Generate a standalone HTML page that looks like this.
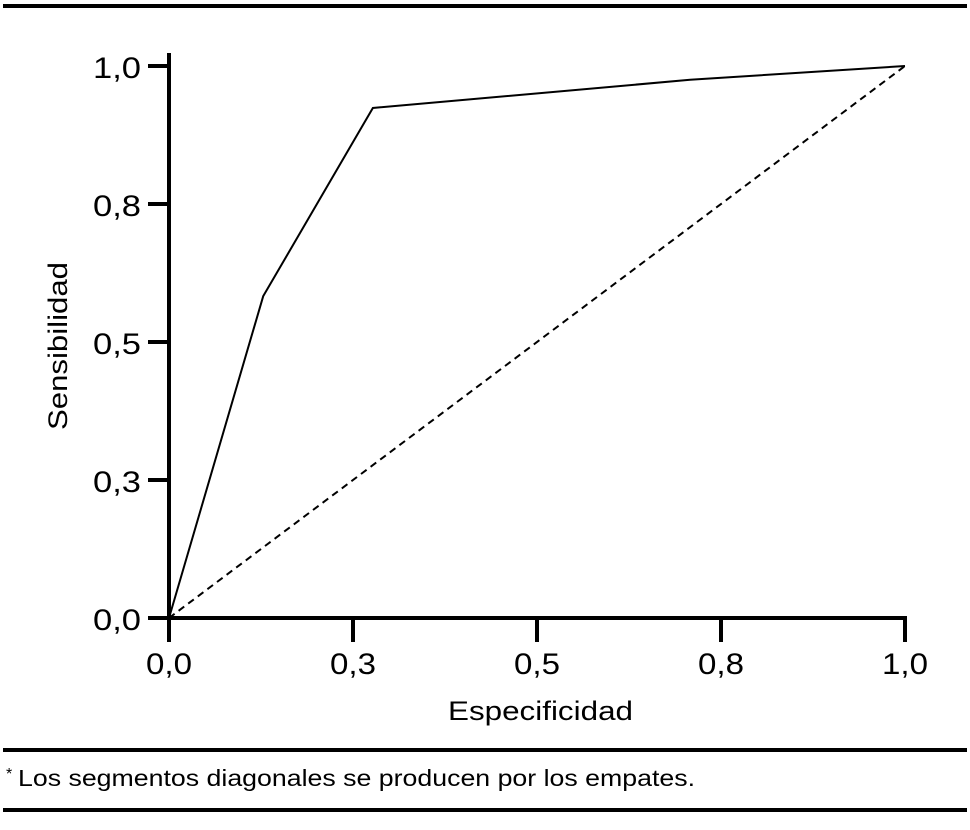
<!DOCTYPE html>
<html><head><meta charset="utf-8"><style>
html,body{margin:0;padding:0;background:#fff;}
svg{display:block;font-family:"Liberation Sans",sans-serif;}
</style></head><body>
<svg id="chart" width="970" height="830" viewBox="0 0 970 830">
<rect x="3" y="4" width="964" height="4" fill="#000"/>
<rect x="3" y="748" width="964" height="4" fill="#000"/>
<rect x="3" y="808" width="964" height="4" fill="#000"/>
<text x="6" y="779" font-size="16">*</text>
<text x="18" y="786" font-size="23" textLength="677" lengthAdjust="spacingAndGlyphs">Los segmentos diagonales se producen por los empates.</text>
<g id="plot"></g>
</svg>
<script>
const xTickVals=[0,0.25,0.5,0.75,1];
const xTickLabels=["0,0","0,3","0,5","0,8","1,0"];
const yTickVals=[0,0.25,0.5,0.75,1];
const yTickLabels=["0,0","0,3","0,5","0,8","1,0"];
const rocX=[0,0.128,0.277,0.708,1];
const rocY=[0,0.583,0.924,0.975,1];
const refX=[0,1];
const refY=[0,1];

const X0=169,X1=905,Y0=618,Y1=66;
const sx=v=>X0+(X1-X0)*v;
const sy=v=>Y0-(Y0-Y1)*v;
const NS="http://www.w3.org/2000/svg";
const g=document.getElementById('plot');
function mk(tag,attrs){const e=document.createElementNS(NS,tag);for(const k in attrs)e.setAttribute(k,attrs[k]);g.appendChild(e);return e;}

let e=mk('line',{x1:X0,y1:53,x2:X0,y2:642,stroke:'#000','stroke-width':4});


e=mk('line',{x1:148,y1:Y0,x2:X1+2,y2:Y0,stroke:'#000','stroke-width':4});



xTickVals.forEach((v,i)=>{
  const t=mk('line',{x1:sx(v),y1:Y0,x2:sx(v),y2:642,stroke:'#000','stroke-width':4});
  
  
  const l=mk('text',{x:sx(v)-23,y:674,'font-size':30,textLength:46,lengthAdjust:'spacingAndGlyphs'});
  l.textContent=xTickLabels[i];
  
  
});
yTickVals.forEach((v,i)=>{
  const t=mk('line',{x1:148,y1:sy(v),x2:X0,y2:sy(v),stroke:'#000','stroke-width':4});
  
  
  const l=mk('text',{x:93,y:sy(v)+12,'font-size':30,textLength:48,lengthAdjust:'spacingAndGlyphs'});
  l.textContent=yTickLabels[i];
  
  
});

e=mk('text',{x:448,y:720,'font-size':27,textLength:185,lengthAdjust:'spacingAndGlyphs'});
e.textContent='Especificidad';


e=mk('text',{x:0,y:0,'font-size':27,textLength:168,lengthAdjust:'spacingAndGlyphs',transform:'translate(67,430) rotate(-90)'});
e.textContent='Sensibilidad';



e=mk('polyline',{points:refX.map((v,i)=>sx(v)+','+sy(refY[i])).join(' '),fill:'none',stroke:'#000','stroke-width':2,'stroke-dasharray':'7,5'});


e=mk('polyline',{points:rocX.map((v,i)=>sx(v)+','+sy(rocY[i])).join(' '),fill:'none',stroke:'#000','stroke-width':2});


</script>
</body></html>
